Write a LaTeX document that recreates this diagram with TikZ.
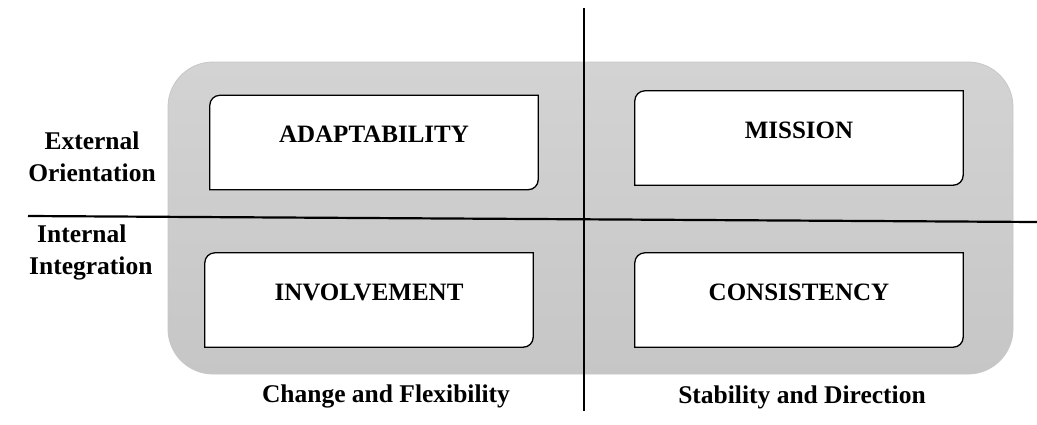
\documentclass[tikz,border=0pt]{standalone}
\usepackage{fontspec}
\setmainfont{Liberation Serif}

\definecolor{paneltop}{RGB}{211,211,211}
\definecolor{panelbot}{RGB}{198,198,198}

\tikzset{
  panel/.style={top color=paneltop, bottom color=panelbot, draw=black!22,
    line width=0.8pt, rounded corners=45pt, minimum width=845pt,
    minimum height=312pt},
  quad/.style={minimum width=328pt, minimum height=94pt, inner sep=0pt},
  quadline/.style={draw=black, fill=white, line width=1.3pt},
  title/.style={font=\fontsize{25}{32}\selectfont\bfseries, text height=17pt,
    text depth=17pt, inner sep=0pt},
  axislabel/.style={font=\fontsize{25.5}{32}\selectfont\bfseries, align=center,
    inner sep=0pt},
  axis/.style={line width=2.2pt}
}

% box with two rounded corners (top left, bottom right)
\newcommand{\cultbox}[3]{%
  \node[quad] (#1) at (#2) {};
  \draw[quadline] (#1.south west) -- ([yshift=-10pt]#1.north west)
    arc[start angle=180, end angle=90, radius=10pt] -- (#1.north east)
    -- ([yshift=10pt]#1.south east)
    arc[start angle=0, end angle=-90, radius=10pt] -- cycle;
  \node[title] at (#1) {#3};}

\begin{document}
\begin{tikzpicture}[x=1pt, y=-1pt]
  \useasboundingbox[fill=white] (0,0) rectangle (1037,424);

  % background panel
  \node[panel] (panel) at (590.5,218) {};

  % axes
  \coordinate (ytop) at (584,8);
  \coordinate (ybot) at (584,411);
  \coordinate (xleft) at (28,216);
  \coordinate (xright) at (1037,222);
  \draw[axis] (ytop) -- (ybot);
  \draw[axis] (xleft) -- (xright);

  % the four traits
  \cultbox{adapt}{374,142.5}{ADAPTABILITY}
  \cultbox{mission}{799,138}{MISSION}
  \cultbox{involve}{369,300}{INVOLVEMENT}
  \cultbox{consist}{799,300}{CONSISTENCY}

  % labels
  \node[axislabel] (external) at (92,156.5) {External\\Orientation};
  \node[axislabel, anchor=west, align=left] (internal) at (29,252.5)
    {\hspace*{8pt}Internal\\Integration};
  \node[axislabel] (change) at (386,396) {Change and Flexibility};
  \node[axislabel] (stable) at (802,397) {Stability and Direction};

\end{tikzpicture}
\end{document}
